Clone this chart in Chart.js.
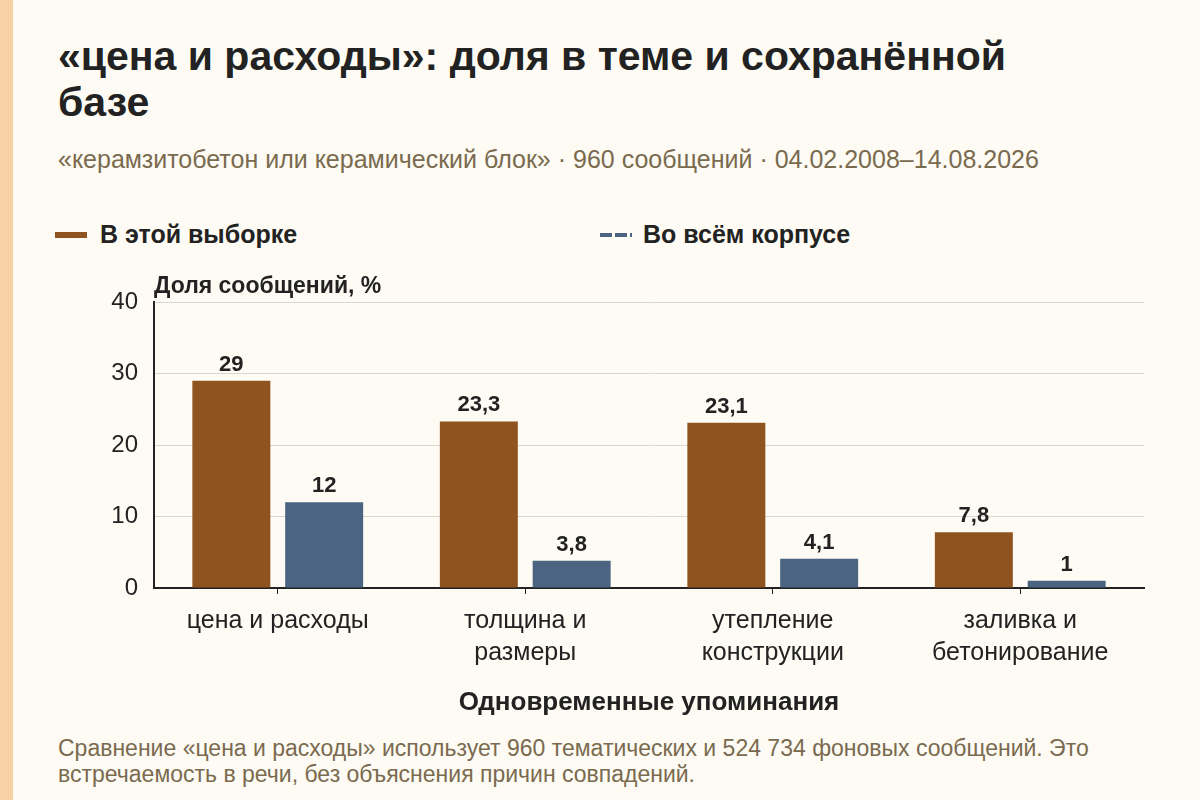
<!DOCTYPE html>
<html lang="ru">
<head>
<meta charset="utf-8">
<script src="https://cdn.jsdelivr.net/npm/chart.js@4"></script>
<style>
  html, body { margin: 0; padding: 0; }
  body {
    width: 1200px; height: 800px; overflow: hidden; position: relative;
    background: #fdfbf3; font-family: "Liberation Sans", Arial, sans-serif; color: #222;
  }
  .strip { position: absolute; left: 0; top: 0; width: 13px; height: 800px; background: #f6d2a6; }
  h1 {
    position: absolute; left: 58px; top: 33px; width: 990px; margin: 0;
    font-size: 41px; line-height: 46px; font-weight: bold; color: #222;
  }
  .sub { position: absolute; left: 58px; top: 145px; font-size: 25px; line-height: 29px; color: #7a6a4f; white-space: nowrap; }
  .leg { position: absolute; top: 220px; font-size: 25px; font-weight: bold; color: #222; line-height: 28px; }
  .leg .mk { position: absolute; left: 0; width: 32px; }
  .leg span.t { position: absolute; white-space: nowrap; top: 0; }
  .foot { position: absolute; left: 58px; top: 735px; width: 1100px; font-size: 23px; line-height: 26px; color: #7a6a4f; }
  #wrap { position: absolute; left: 0; top: 0; width: 1200px; height: 725px; }
</style>
</head>
<body>
<div class="strip"></div>
<h1>«цена и расходы»: доля в теме и сохранённой базе</h1>
<div class="sub">«керамзитобетон или керамический блок» · 960 сообщений · 04.02.2008–14.08.2026</div>

<div class="leg" style="left:55px">
  <div class="mk" style="height:6px;top:12px;background:#8f531f"></div>
  <span class="t" style="left:45px">В этой выборке</span>
</div>
<div class="leg" style="left:600px">
  <div class="mk" style="height:4px;top:13px;background:repeating-linear-gradient(90deg,#4a6482 0 12px,transparent 12px 15px)"></div>
  <span class="t" style="left:43px">Во всём корпусе</span>
</div>

<div id="wrap"><canvas id="chart"></canvas></div>

<div class="foot">Сравнение «цена и расходы» использует 960 тематических и 524 734 фоновых сообщений. Это встречаемость в речи, без объяснения причин совпадений.</div>

<script>
// Data
const categories = [
    ['цена и расходы'],
    ['толщина и', 'размеры'],
    ['утепление', 'конструкции'],
    ['заливка и', 'бетонирование']
];
const sampleShare = [29, 23.3, 23.1, 7.8];
const corpusShare = [12, 3.8, 4.1, 1];
const yTicks = [0, 10, 20, 30, 40];

const yTitle = 'Доля сообщений, %';
const xTitle = 'Одновременные упоминания';
const fontFamily = '"Liberation Sans", Arial, sans-serif';

// Value labels above bars
const barLabels = {
    id: 'barLabels',
    afterDatasetsDraw(chart) {
        const c = chart.ctx;
        c.save();
        c.font = 'bold 22px ' + fontFamily;
        c.fillStyle = '#222';
        c.textAlign = 'center';
        c.textBaseline = 'alphabetic';
        chart.data.datasets.forEach((ds, i) => {
            chart.getDatasetMeta(i).data.forEach((bar, j) => {
                c.fillText(String(ds.data[j]).replace('.', ','), bar.x, bar.y - 10);
            });
        });
        c.restore();
    }
};

// Y axis title sits above the plot, not rotated
const yAxisTitle = {
    id: 'yAxisTitle',
    afterDraw(chart) {
        const c = chart.ctx;
        const area = chart.chartArea;
        c.save();
        c.font = 'bold 23px ' + fontFamily;
        c.fillStyle = '#222';
        c.textAlign = 'left';
        c.textBaseline = 'alphabetic';
        c.fillText(yTitle, area.left, area.top - 9);
        c.restore();
    }
};

const ctx = document.getElementById('chart').getContext('2d');
new Chart(ctx, {
    type: 'bar',
    data: {
        labels: categories,
        datasets: [{
            label: 'В этой выборке',
            data: sampleShare,
            backgroundColor: '#8f531f',
            categoryPercentage: 0.75,
            barPercentage: 0.84
        }, {
            label: 'Во всём корпусе',
            data: corpusShare,
            backgroundColor: '#4a6482',
            categoryPercentage: 0.75,
            barPercentage: 0.84
        }]
    },
    options: {
        responsive: true,
        maintainAspectRatio: false,
        animation: false,
        layout: { padding: { left: 0, right: 56, top: 302, bottom: 0 } },
        plugins: {
            legend: { display: false },
            tooltip: { enabled: false }
        },
        scales: {
            x: {
                afterFit(scale) { scale.height = 137; },
                grid: {
                    display: true,
                    offset: false,
                    drawOnChartArea: false,
                    drawTicks: true,
                    tickLength: 6,
                    color: '#222',
                    lineWidth: 1
                },
                border: { display: true, color: '#222', width: 2 },
                ticks: {
                    color: '#222',
                    padding: 11,
                    font: { family: fontFamily, size: 25, lineHeight: 1.27 }
                },
                title: {
                    display: true,
                    text: xTitle,
                    color: '#222',
                    padding: { top: 0, bottom: 7 },
                    font: { family: fontFamily, size: 26, weight: 'bold' }
                }
            },
            y: {
                min: 0,
                max: 40,
                afterFit(scale) { scale.width = 154; },
                afterBuildTicks(scale) { scale.ticks = yTicks.map(v => ({ value: v })); },
                grid: { color: '#d9d7d0', lineWidth: 1, drawTicks: false },
                border: { display: true, color: '#222', width: 2 },
                ticks: {
                    color: '#222',
                    padding: 16,
                    font: { family: fontFamily, size: 24 }
                }
            }
        }
    },
    plugins: [barLabels, yAxisTitle]
});
</script>
</body>
</html>
